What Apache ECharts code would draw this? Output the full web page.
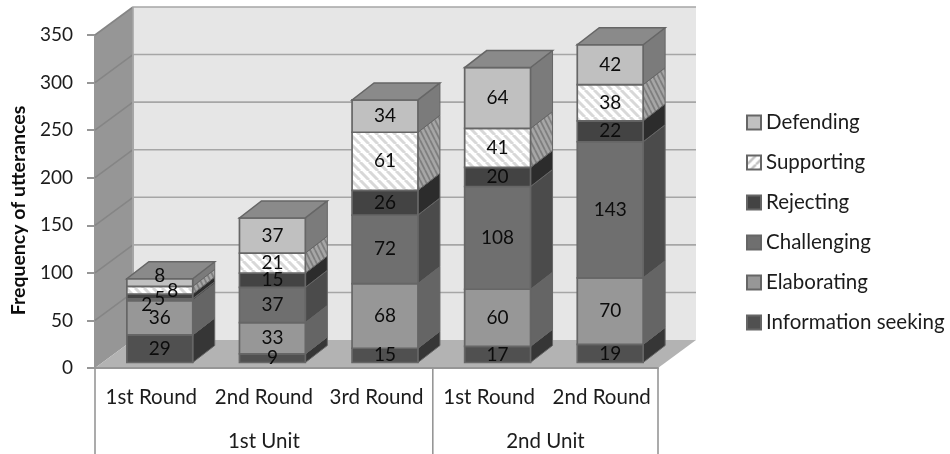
<!DOCTYPE html>
<html>
<head>
<meta charset="utf-8">
<style>html,body{margin:0;padding:0;background:#fff}#chart{width:950px;height:454px}</style>
<script src="https://cdn.jsdelivr.net/npm/echarts@6/dist/echarts.min.js"></script>
</head>
<body>
<div id="chart"></div>
<script>
// Utterance counts per discussion round, stacked by move type
const categories = ['1st Round', '2nd Round', '3rd Round', '1st Round', '2nd Round'];
const units = ['1st Unit', '2nd Unit'];
const unitSizes = [3, 2];
const informationSeeking = [29, 9, 15, 17, 19];
const elaborating = [36, 33, 68, 60, 70];
const challenging = [2, 37, 72, 108, 143];
const rejecting = [5, 15, 26, 20, 22];
const supporting = [8, 21, 61, 41, 38];
const defending = [8, 37, 34, 64, 42];
const seriesNames = ['Information seeking', 'Elaborating', 'Challenging', 'Rejecting', 'Supporting', 'Defending'];
const seriesValues = [informationSeeking, elaborating, challenging, rejecting, supporting, defending];
const yTicks = [0, 50, 100, 150, 200, 250, 300, 350];

// Fake-perspective constants, in pixels
const WALL_DX = 38, WALL_DY = -28;
const BAR_DX = 8.5, BAR_DY = -5.5;
const DEPTH_DX = 22, DEPTH_DY = -17;
const BAR_RATIO = 0.585;
const FONT = 'Lato, "Open Sans", sans-serif';
const INK = '#1c1c1c';
const LABEL_INK = '#0c0c0c';
const EDGE = '#666666';
const WORD_SIZE = 20.5;
const DIGIT_SIZE = 19;

// Tiled diagonal hatching used by the Supporting segments
function hatch(w, h, base, stripe, lineWidth, rising) {
  const c = document.createElement('canvas');
  c.width = w; c.height = h;
  const g = c.getContext('2d');
  g.fillStyle = base; g.fillRect(0, 0, w, h);
  g.strokeStyle = stripe; g.lineWidth = lineWidth;
  for (let k = -1; k <= 1; k++) {
    g.beginPath();
    if (rising) { g.moveTo(k * w, h); g.lineTo((k + 1) * w, 0); }
    else { g.moveTo(k * w, 0); g.lineTo((k + 1) * w, h); }
    g.stroke();
  }
  return { image: c, repeat: 'repeat' };
}
const hatchFront = hatch(9, 9, '#ffffff', '#d8d8d8', 3, false);
const hatchSide = hatch(5, 10, '#a6a6a6', '#7e7e7e', 1.8, false);
const hatchKey = hatch(9, 9, '#ffffff', '#c4c4c4', 2.6, true);

const frontFill = ['#505050', '#979797', '#6f6f6f', '#434343', hatchFront, '#c0c0c0'];
const sideFill = ['#363636', '#656565', '#4b4b4b', '#2c2c2c', hatchSide, '#7b7b7b'];
const keyFill = ['#505050', '#979797', '#6f6f6f', '#434343', hatchKey, '#c0c0c0'];
const TOP_FILL = '#8a8a8a';

// Hand-placed offsets for the crowded labels of the shortest stack: [series, category, dx, dy]
const labelShifts = [[2, 0, -13, 5.5], [3, 0, 0, 2], [4, 0, 13, 1], [5, 0, 0, -7]];

function poly(points, fill, stroke, lineWidth) {
  return { type: 'polygon', shape: { points }, style: { fill, stroke, lineWidth } };
}

function bandLeft(api, index) {
  return api.coord([index, 0])[0] - api.size([1, 0])[0] / 2;
}

function y0Of(api) { return api.coord([0, 0])[1]; }

// Back wall, side wall and floor of the chart box
function renderWalls(params, api) {
  const left = bandLeft(api, 0);
  const right = bandLeft(api, categories.length);
  const y0 = y0Of(api);
  const yTop = api.coord([0, yTicks[yTicks.length - 1]])[1];
  return {
    type: 'group',
    children: [
      poly([[left + WALL_DX, yTop + WALL_DY], [right + WALL_DX, yTop + WALL_DY], [right + WALL_DX, y0 + WALL_DY], [left + WALL_DX, y0 + WALL_DY]], '#e6e6e6', null, 0),
      poly([[left, yTop], [left + WALL_DX, yTop + WALL_DY], [left + WALL_DX, y0 + WALL_DY], [left, y0]], '#969696', null, 0),
      poly([[left, y0], [right, y0], [right + WALL_DX, y0 + WALL_DY], [left + WALL_DX, y0 + WALL_DY]], '#b3b3b3', null, 0)
    ]
  };
}

// One grid line: a run across the side wall, then across the back wall
function renderGridLine(params, api) {
  const v = api.value(0);
  const left = bandLeft(api, 0);
  const right = bandLeft(api, categories.length);
  const y = api.coord([0, v])[1];
  const line = (x1, y1, x2, y2, color) => ({
    type: 'line', shape: { x1, y1, x2, y2 }, style: { stroke: color, lineWidth: 1.6 }
  });
  const children = [];
  if (v > 0) {
    children.push(line(left, y, left + WALL_DX, y + WALL_DY, '#858585'));
    children.push(line(left + WALL_DX, y + WALL_DY, right + WALL_DX, y + WALL_DY, '#a6a6a6'));
  }
  children.push(line(left + WALL_DX, y + WALL_DY, left + WALL_DX, y0Of(api) + WALL_DY, '#a6a6a6'));
  return { type: 'group', children };
}

// One stacked segment: side face, optional lid, front face and its value
function segmentRenderer(seriesIndex) {
  return function (params, api) {
    const cat = api.value(0);
    const base = api.value(1);
    const top = api.value(2);
    const count = top - base;
    const p0 = api.coord([cat, base]);
    const p1 = api.coord([cat, top]);
    const half = api.size([1, 0])[0] * BAR_RATIO / 2;
    const xl = p0[0] - half + BAR_DX;
    const xr = p0[0] + half + BAR_DX;
    const yb = p0[1] + BAR_DY;
    const yt = p1[1] + BAR_DY;
    const children = [
      poly([[xr, yb], [xr + DEPTH_DX, yb + DEPTH_DY], [xr + DEPTH_DX, yt + DEPTH_DY], [xr, yt]], sideFill[seriesIndex], EDGE, 1),
      poly([[xl, yb], [xr, yb], [xr, yt], [xl, yt]], frontFill[seriesIndex], EDGE, 1.7)
    ];
    if (seriesIndex === seriesValues.length - 1) {
      children.push(poly([[xl, yt], [xr, yt], [xr + DEPTH_DX, yt + DEPTH_DY], [xl + DEPTH_DX, yt + DEPTH_DY]], TOP_FILL, EDGE, 1.5));
    }
    const shift = labelShifts.find(s => s[0] === seriesIndex && s[1] === cat);
    children.push({
      type: 'text',
      z2: 100,
      style: {
        x: (xl + xr) / 2 + (shift ? shift[2] : 0),
        y: (yb + yt) / 2 + (shift ? shift[3] : 0),
        text: String(count),
        fill: LABEL_INK,
        font: DIGIT_SIZE + 'px ' + FONT,
        align: 'center',
        verticalAlign: 'middle'
      }
    });
    return { type: 'group', children };
  };
}

// Separators and unit names below the round labels
function renderUnits(params, api) {
  const y0 = y0Of(api);
  const children = [];
  const sep = x => ({ type: 'line', shape: { x1: x, y1: y0, x2: x, y2: 454 }, style: { stroke: '#969696', lineWidth: 1.6 } });
  let start = 0;
  children.push(sep(bandLeft(api, 0)));
  units.forEach((name, i) => {
    const end = start + unitSizes[i];
    const x1 = bandLeft(api, start), x2 = bandLeft(api, end);
    children.push(sep(x2));
    children.push({
      type: 'text',
      style: { x: (x1 + x2) / 2, y: 441, text: name, fill: INK, font: WORD_SIZE + 'px ' + FONT, align: 'center', verticalAlign: 'middle' }
    });
    start = end;
  });
  return { type: 'group', children };
}

const stackSeries = seriesNames.map((name, s) => ({
  type: 'custom',
  name,
  coordinateSystem: 'cartesian2d',
  clip: false,
  silent: true,
  itemStyle: { color: keyFill[s], borderColor: EDGE, borderWidth: 1.5 },
  renderItem: segmentRenderer(s),
  encode: { x: 0, y: [1, 2] },
  data: categories.map((_, c) => {
    let base = 0;
    for (let k = 0; k < s; k++) base += seriesValues[k][c];
    return [c, base, base + seriesValues[s][c]];
  })
}));

const chart = echarts.init(document.getElementById('chart'), null, { renderer: 'canvas' });
chart.setOption({
  animation: false,
  backgroundColor: '#ffffff',
  grid: { left: 95, right: 292, top: 35, bottom: 86, containLabel: false },
  xAxis: {
    type: 'category',
    data: categories,
    boundaryGap: true,
    axisLine: { show: true, lineStyle: { color: '#969696', width: 2 } },
    axisTick: { show: false },
    axisLabel: { color: INK, fontFamily: FONT, fontSize: WORD_SIZE, margin: 19, interval: 0 },
    z: 5
  },
  yAxis: {
    type: 'value',
    min: 0,
    max: 350,
    interval: 50,
    splitLine: { show: false },
    axisLine: { show: true, lineStyle: { color: '#969696', width: 2 } },
    axisTick: { show: true, length: 8, lineStyle: { color: '#969696', width: 2 } },
    axisLabel: { color: INK, fontFamily: FONT, fontSize: DIGIT_SIZE, margin: 22 },
    name: 'Frequency of utterances',
    nameLocation: 'middle',
    nameGap: 64,
    nameTextStyle: { color: '#0c0c0c', fontFamily: FONT, fontSize: 19.5, fontWeight: 'bold', padding: [0, 18, 0, 0] }
  },
  legend: {
    orient: 'vertical',
    left: 741,
    top: 107,
    icon: 'rect',
    itemWidth: 14,
    itemHeight: 14,
    itemGap: 19,
    selectedMode: false,
    data: seriesNames.slice().reverse(),
    textStyle: { color: INK, fontFamily: FONT, fontSize: WORD_SIZE, padding: 0 }
  },
  series: [
    { type: 'custom', name: 'walls', silent: true, clip: false, renderItem: renderWalls, data: [[0, 0]], z: 1 },
    { type: 'custom', name: 'gridlines', silent: true, clip: false, renderItem: renderGridLine, encode: { y: 0 }, data: yTicks.map(v => [v]), z: 1 },
    { type: 'custom', name: 'units', silent: true, clip: false, renderItem: renderUnits, data: [[0, 0]], z: 1 }
  ].concat(stackSeries)
});
</script>
</body>
</html>
